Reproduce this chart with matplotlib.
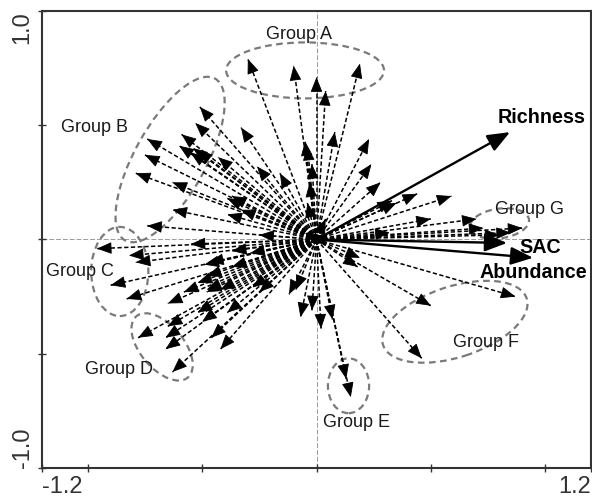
import matplotlib
matplotlib.use("Agg")
import matplotlib.pyplot as plt
from matplotlib.patches import Ellipse
import numpy as np

plt.rcParams['font.family'] = ['Liberation Sans', 'DejaVu Sans']

# Species vectors (biplot arrow tips)
species_x = [-0.30, -0.10, 0.00, 0.04, 0.19, -0.05, -0.04, 0.08, 0.23, -0.33,
             0.24, 0.28, -0.02, -0.03,
             -0.51, -0.53, -0.74, -0.75, -0.79, -0.63, -0.60, -0.55, -0.52, -0.43,
             -0.39, -0.63, -0.74, -0.39, -0.26, -0.16, -0.04, 0.04, -0.33, -0.59,
             -0.54, -0.37,
             -0.96, -0.82, -0.79, -0.55, -0.37, -0.90, -0.49, -0.29, -0.83, -0.65,
             -0.58, -0.52, -0.48, -0.42, -0.47, -0.37, -0.25, -0.48,
             -0.78, -0.66, -0.65, -0.66, -0.52, -0.50, -0.46, -0.42, -0.63, -0.39,
             -0.28, -0.25, -0.48,
             -0.12, -0.09, -0.07, -0.02, 0.02, 0.07, 0.13, 0.15,
             0.19, 0.18, 0.50, 0.87, 0.46, 0.44, 0.59, 0.35, 0.50, 0.70,
             0.73, 0.85, 0.90, 0.32, 0.33, 0.80,
             -0.05, 0.04, 0.05]
species_y = [0.79, 0.76, 0.71, 0.65, 0.77, 0.43, 0.41, 0.47, 0.44, 0.49,
             0.33, 0.25, 0.33, 0.25,
             0.58, 0.51, 0.44, 0.37, 0.29, 0.25, 0.41, 0.38, 0.39, 0.36,
             0.18, 0.13, 0.06, 0.11, 0.32, 0.29, 0.16, 0.09, 0.13, 0.46,
             0.40, 0.19,
             -0.04, -0.07, -0.10, -0.02, -0.05, -0.20, -0.11, -0.06, -0.26, -0.28,
             -0.23, -0.19, -0.22, -0.22, -0.10, -0.12, 0.02, -0.16,
             -0.43, -0.43, -0.38, -0.48, -0.32, -0.36, -0.43, -0.48, -0.58, -0.32,
             -0.21, -0.23, -0.23,
             -0.24, -0.22, -0.34, -0.31, -0.39, -0.35, -0.61, -0.69,
             -0.08, -0.12, -0.29, -0.25, -0.52, 0.20, 0.19, 0.16, 0.09, 0.09,
             0.05, 0.03, 0.05, 0.03, 0.17, 0.02,
             0.03, -0.02, 0.02]

# Explanatory variables
env_names = ["Richness", "SAC", "Abundance"]
env_x = [0.846, 0.833, 0.947]
env_y = [0.470, -0.015, -0.080]

# Species groups
group_names = ["Group A", "Group B", "Group C", "Group D", "Group E", "Group F", "Group G"]
group_cx = [-0.05, -0.64, -0.86, -0.675, 0.14, 0.605, 0.80]
group_cy = [0.74, 0.35, -0.14, -0.47, -0.64, -0.36, 0.07]
group_w = [0.69, 0.81, 0.25, 0.35, 0.18, 0.66, 0.26]
group_h = [0.245, 0.31, 0.39, 0.19, 0.24, 0.31, 0.13]
group_angle = [0, 61, 0, -50, 0, 18, 8]
label_x = [-0.075, -0.97, -1.035, -0.865, 0.177, 0.74, 0.93]
label_y = [0.895, 0.49, -0.14, -0.57, -0.80, -0.45, 0.13]

fig = plt.figure(figsize=(5.92, 4.98), dpi=100)
ax = fig.add_axes([42 / 592, 30 / 498, 549 / 592, 457 / 498])
ax.set_xlim(-1.2, 1.2)
ax.set_ylim(-1.0, 1.0)

# reference axes through the origin
ax.axhline(0, color='#9a9a9a', lw=0.7, ls=(0, (5, 2)), zorder=1)
ax.axvline(0, color='#9a9a9a', lw=0.7, ls=(0, (5, 2)), zorder=1)

# group ellipses
for cx, cy, w, h, a in zip(group_cx, group_cy, group_w, group_h, group_angle):
    ax.add_patch(Ellipse((cx, cy), w, h, angle=a, fill=False,
                         edgecolor='#7a7a7a', lw=1.6, ls=(0, (3, 2)), zorder=2))

# species arrows: dashed shafts with solid heads
for x, y in zip(species_x, species_y):
    ax.plot([0, x], [0, y], color='black', lw=1.1, ls=(0, (2.8, 1.6)), zorder=3)
    r = np.hypot(x, y)
    ux, uy = x / r, y / r
    eps = min(0.05, r * 0.8)
    ax.annotate('', xy=(x, y), xytext=(x - eps * ux, y - eps * uy),
                arrowprops=dict(arrowstyle='-|>,head_length=0.75,head_width=0.3',
                                mutation_scale=12.5, color='black', lw=0.6,
                                shrinkA=0, shrinkB=0), zorder=4)

# environmental vectors
for x, y in zip(env_x, env_y):
    ax.annotate('', xy=(x, y), xytext=(0, 0),
                arrowprops=dict(arrowstyle='-|>,head_length=0.8,head_width=0.32',
                                mutation_scale=17, color='black', lw=1.7,
                                shrinkA=0, shrinkB=0), zorder=5)

ax.text(0.79, 0.535, env_names[0], fontsize=14.2, fontweight='bold', ha='left', va='center')
ax.text(0.98, -0.033, env_names[1], fontsize=14.2, fontweight='bold', ha='center', va='center')
ax.text(0.946, -0.143, env_names[2], fontsize=14.2, fontweight='bold', ha='center', va='center')

for name, lx, ly in zip(group_names, label_x, label_y):
    ax.text(lx, ly, name, fontsize=13, ha='center', va='center', color='#1a1a1a')

# frame and ticks
for s in ax.spines.values():
    s.set_color('#333333')
    s.set_linewidth(1.5)
ax.set_xticks([-1.2, -1.0, -0.5, 0, 0.5, 1.0, 1.2])
ax.set_xticklabels(['-1.2', '', '', '', '', '', '1.2'])
ax.set_yticks([-1.0, -0.5, 0, 0.5, 1.0])
ax.set_yticklabels(['-1.0', '', '', '', '1.0'])
ax.tick_params(direction='inout', length=6, width=1, colors='#333333', labelsize=17)
ax.tick_params(axis='x', pad=3)
ax.tick_params(axis='y', pad=3)
xt = ax.get_xticklabels()
xt[0].set_ha('left')
xt[-1].set_ha('right')
yt = ax.get_yticklabels()
for lab in yt:
    lab.set_rotation(90)
yt[0].set_va('bottom')
yt[-1].set_va('top')

fig.savefig('out.png', dpi=100)
